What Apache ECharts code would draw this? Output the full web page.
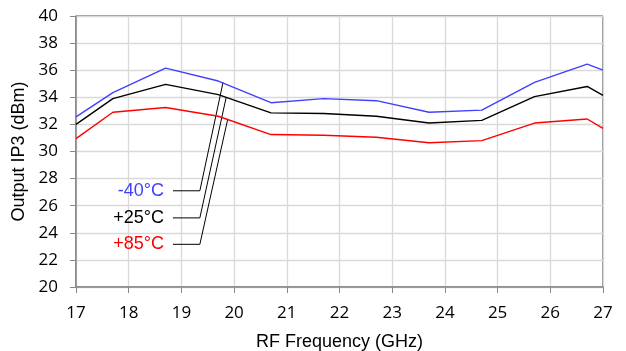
<!DOCTYPE html>
<html><head><meta charset="utf-8">
<script src="https://cdn.jsdelivr.net/npm/echarts@6/dist/echarts.min.js"></script>
<style>html,body{margin:0;padding:0;background:#fff}#c{width:626px;height:351px}</style>
</head><body><div id="c"></div>
<script>
const freqs = [17, 17.7, 18.7, 19.7, 20.7, 21.7, 22.7, 23.7, 24.7, 25.7, 26.7, 27];
const tempM40 = [32.55, 34.35, 36.15, 35.2, 33.6, 33.9, 33.75, 32.9, 33.05, 35.1, 36.45, 36.0];
const tempP25 = [32.0, 33.9, 34.95, 34.2, 32.85, 32.8, 32.6, 32.1, 32.3, 34.05, 34.8, 34.15];
const tempP85 = [30.95, 32.9, 33.25, 32.6, 31.25, 31.2, 31.05, 30.65, 30.8, 32.1, 32.4, 31.7];
const seriesNames = ['-40°C', '+25°C', '+85°C'];
const seriesColors = ['#4040ff', '#000000', '#ff0000'];
// leader lines (label end -> elbow -> curve), data coordinates
const leaderM40 = [[18.84, 27.1], [19.35, 27.1], [19.79, 35.1]];
const leaderP25 = [[18.84, 25.1], [19.35, 25.1], [19.85, 34.0]];
const leaderP85 = [[18.84, 23.15], [19.35, 23.15], [19.88, 32.4]];
const yTicks = [20, 22, 24, 26, 28, 30, 32, 34, 36, 38, 40];
const xTicks = [17, 18, 19, 20, 21, 22, 23, 24, 25, 26, 27];

const values = [tempM40, tempP25, tempP85];
const leaders = [leaderM40, leaderP25, leaderP85];
const tickFont = '"Open Sans", sans-serif';
const series = [];
values.forEach((v, i) => {
  series.push({
    name: seriesNames[i], type: 'line', data: freqs.map((f, k) => [f, v[k]]),
    showSymbol: false, symbol: 'none', lineStyle: { color: seriesColors[i], width: 1.4 },
    itemStyle: { color: seriesColors[i] }, animation: false, z: 3
  });
});
leaders.forEach((l, i) => {
  series.push({
    type: 'line', data: l, symbol: 'none', silent: true, animation: false,
    lineStyle: { color: '#000', width: 1 }, z: 2,
    markPoint: {
      symbol: 'rect', symbolSize: 0, silent: true,
      data: [{ coord: l[0], label: { show: true, formatter: seriesNames[i], position: 'left', distance: 9,
        color: seriesColors[i], fontSize: 18, fontFamily: 'Liberation Sans, Arial, sans-serif' } }]
    }
  });
});

const chart = echarts.init(document.getElementById('c'), null, { renderer: 'canvas' });
chart.setOption({
  animation: false,
  grid: { left: 76, right: 23, top: 16, bottom: 64, show: true, borderColor: '#333', borderWidth: 1,
          containLabel: false, outerBoundsMode: 'none' },
  xAxis: {
    type: 'value', min: xTicks[0], max: xTicks[xTicks.length - 1], interval: 1,
    name: 'RF Frequency (GHz)', nameLocation: 'middle', nameGap: 46,
    nameTextStyle: { fontSize: 18, color: '#000', fontFamily: 'Liberation Sans, Arial, sans-serif' },
    axisLine: { show: true, lineStyle: { color: '#888', width: 1.5 } },
    axisTick: { show: true, length: 6, lineStyle: { color: '#888' } },
    axisLabel: { fontSize: 17, color: '#000', margin: 18, fontFamily: tickFont },
    splitLine: { show: true, lineStyle: { color: '#d9d9d9', width: 1.3 } }
  },
  yAxis: {
    type: 'value', min: yTicks[0], max: yTicks[yTicks.length - 1], interval: 2,
    name: 'Output IP3 (dBm)', nameLocation: 'middle', nameGap: 41, nameRotate: 90,
    nameTextStyle: { fontSize: 18, color: '#000', fontFamily: 'Liberation Sans, Arial, sans-serif' },
    axisLine: { show: true, lineStyle: { color: '#888', width: 1.5 } },
    axisTick: { show: true, length: 6, lineStyle: { color: '#888' } },
    axisLabel: { fontSize: 17, color: '#000', margin: 18, fontFamily: tickFont },
    splitLine: { show: true, lineStyle: { color: '#d9d9d9', width: 1.3 } }
  },
  series: series
});
</script></body></html>
